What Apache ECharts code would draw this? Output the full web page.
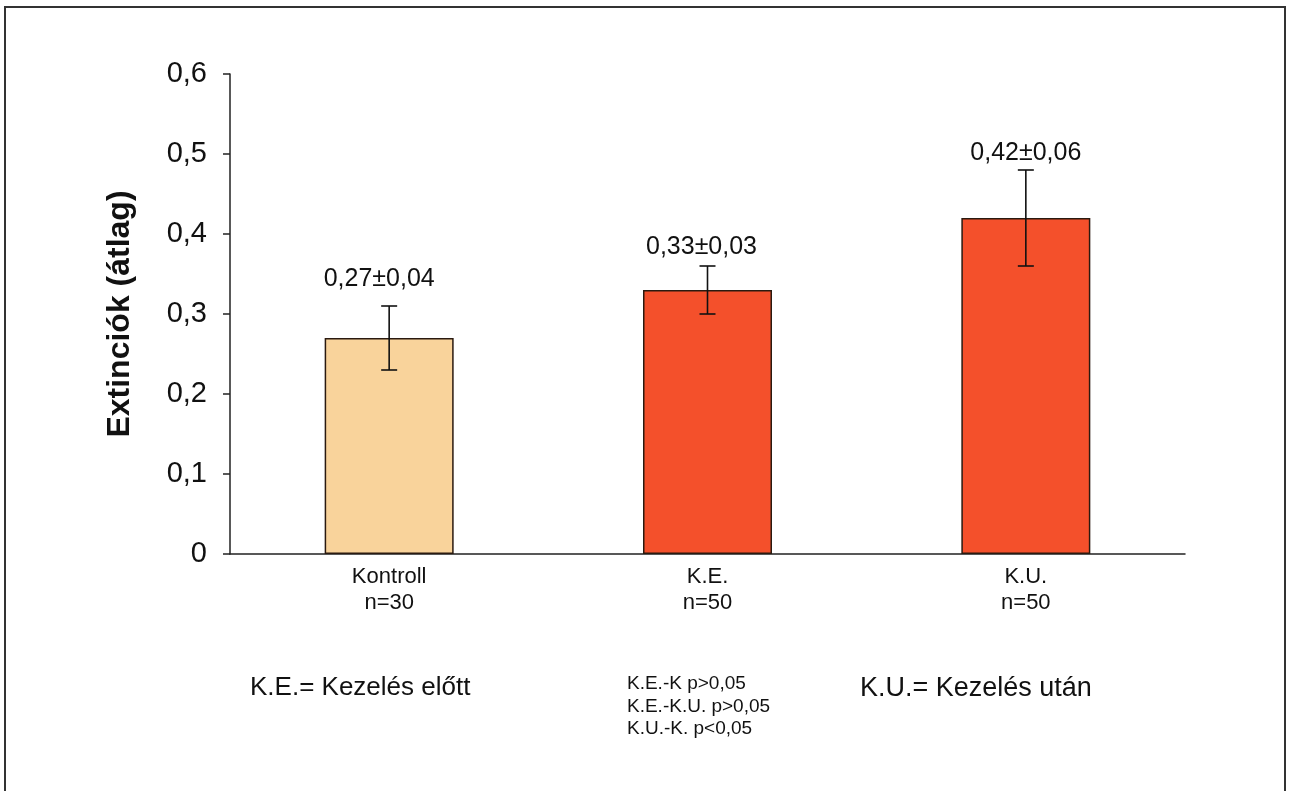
<!DOCTYPE html>
<html>
<head>
<meta charset="utf-8">
<script src="https://cdn.jsdelivr.net/npm/echarts@6/dist/echarts.min.js"></script>
<style>
  html, body { margin: 0; padding: 0; background: #fff; }
  #chart { width: 1289px; height: 791px; }
</style>
</head>
<body>
<div id="chart"></div>
<script>
// Groups, mean extinction and standard deviation
const categories = ['Kontroll', 'K.E.', 'K.U.'];
const groupSizes = ['n=30', 'n=50', 'n=50'];
const means = [0.27, 0.33, 0.42];
const sds = [0.04, 0.03, 0.06];
const yTicks = { min: 0, max: 0.6, interval: 0.1 };

// Styling / placement of the value annotations (pixels)
const barColors = ['#F9D39B', '#F4502B', '#F4502B'];
const labelShiftX = [-10, -6, 0];
const labelLift = [14, 6, 4];

const fmt = v => v.toFixed(2).replace('.', ',');
const font = '"Liberation Sans", Arial, sans-serif';

const chart = echarts.init(document.getElementById('chart'));

chart.setOption({
  animation: false,
  backgroundColor: '#ffffff',
  grid: { left: 230, right: 104, top: 74, bottom: 237 },
  xAxis: {
    type: 'category',
    data: categories,
    axisLine: { lineStyle: { color: '#222', width: 1.5 } },
    axisTick: { show: false },
    axisLabel: {
      margin: 10,
      fontFamily: font,
      fontSize: 22,
      color: '#111',
      lineHeight: 26,
      formatter: (v, i) => v + '\n' + groupSizes[i]
    }
  },
  yAxis: {
    type: 'value',
    min: yTicks.min,
    max: yTicks.max,
    interval: yTicks.interval,
    name: 'Extinciók (átlag)',
    nameLocation: 'middle',
    nameGap: 94,
    nameRotate: 90,
    nameTextStyle: { fontFamily: font, fontSize: 32, fontWeight: 'bold', color: '#111' },
    splitLine: { show: false },
    axisLine: { show: true, lineStyle: { color: '#222', width: 1.5 } },
    axisTick: { show: true, inside: false, length: 7, lineStyle: { color: '#222', width: 1.5 } },
    axisLabel: {
      margin: 23,
      fontFamily: font,
      fontSize: 29,
      color: '#111',
      formatter: v => v === 0 ? '0' : fmt(v).replace(/0$/, '')
    }
  },
  series: [
    {
      type: 'bar',
      barWidth: 129,
      data: means.map((m, i) => ({
        value: m,
        itemStyle: { color: barColors[i], borderColor: '#2a1a10', borderWidth: 1.5 }
      })),
      z: 2
    },
    {
      type: 'custom',
      z: 3,
      data: means.map((m, i) => [i, m - sds[i], m + sds[i], m, sds[i]]),
      renderItem: (params, api) => {
        const i = params.dataIndex;
        const lo = api.coord([api.value(0), api.value(1)]);
        const hi = api.coord([api.value(0), api.value(2)]);
        const cap = 8;
        const style = { stroke: '#111', lineWidth: 1.6 };
        return {
          type: 'group',
          children: [
            { type: 'line', shape: { x1: hi[0], y1: hi[1], x2: lo[0], y2: lo[1] }, style },
            { type: 'line', shape: { x1: hi[0] - cap, y1: hi[1], x2: hi[0] + cap, y2: hi[1] }, style },
            { type: 'line', shape: { x1: lo[0] - cap, y1: lo[1], x2: lo[0] + cap, y2: lo[1] }, style },
            {
              type: 'text',
              x: hi[0] + labelShiftX[i],
              y: hi[1] - labelLift[i],
              style: {
                text: fmt(api.value(3)) + '±' + fmt(api.value(4)),
                fontFamily: font,
                fontSize: 25,
                fill: '#111',
                align: 'center',
                verticalAlign: 'bottom'
              }
            }
          ]
        };
      }
    }
  ],
  graphic: [
    {
      type: 'rect',
      shape: { x: 5, y: 7, width: 1280, height: 820 },
      style: { fill: 'none', stroke: '#333', lineWidth: 2 },
      silent: true
    },
    {
      type: 'text', left: 250, top: 675,
      style: { text: 'K.E.= Kezelés előtt', fontFamily: font, fontSize: 26, fill: '#111' }
    },
    {
      type: 'text', left: 860, top: 675,
      style: { text: 'K.U.= Kezelés után', fontFamily: font, fontSize: 27, fill: '#111' }
    },
    {
      type: 'text', left: 627, top: 673,
      style: {
        text: 'K.E.-K p>0,05\nK.E.-K.U. p>0,05\nK.U.-K. p<0,05',
        fontFamily: font, fontSize: 19, lineHeight: 22.5, fill: '#111'
      }
    }
  ]
});
</script>
</body>
</html>
